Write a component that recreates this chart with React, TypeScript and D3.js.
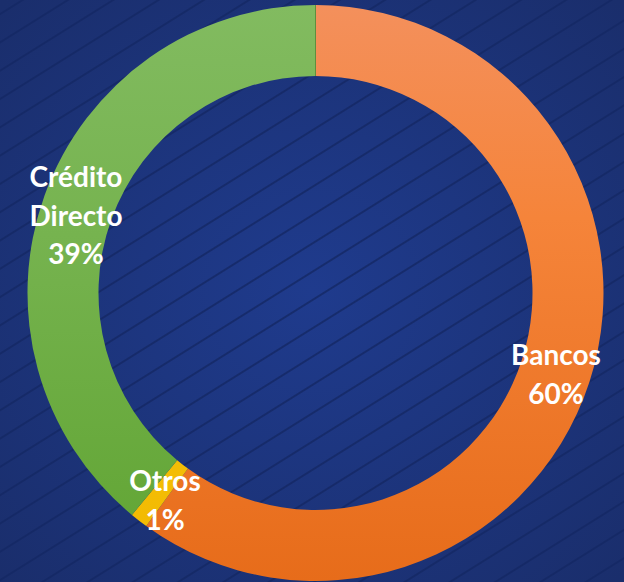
import React from "react";
import * as d3 from "d3";

const categories = ["Bancos", "Otros", "Crédito Directo"];
const values = [60, 1, 39];
const labelLines = [["Bancos", "60%"], ["Otros", "1%"], ["Crédito", "Directo", "39%"]];
const colorStops = [
  [["0%", "#F4905C"], ["37%", "#F5843A"], ["100%", "#E76C1A"]],
  [["0%", "#FFD21A"], ["100%", "#F1B800"]],
  [["0%", "#82BB60"], ["40%", "#76B34F"], ["100%", "#60A432"]],
];

const W = 624;
const H = 582;

export default function App() {
  const cx = 315.5;
  const cy = 293;
  const outerR = 288;
  const innerR = 217;
  const pie = d3.pie<number>().sort(null).value((d) => d)(values);
  const arc = d3.arc<d3.PieArcDatum<number>>().innerRadius(innerR).outerRadius(outerR);
  const labelPos: [number, number][] = [
    [556, 355],
    [165, 481],
    [76, 177],
  ];
  return (
    <svg width={W} height={H} style={{ position: "absolute", left: 0, top: 0 }}>
      <defs>
        <radialGradient id="bg" cx="50%" cy="50%" r="70%">
          <stop offset="0%" stopColor="#1F3B8D" />
          <stop offset="100%" stopColor="#1A2E6C" />
        </radialGradient>
        <pattern id="stripes" patternUnits="userSpaceOnUse" width="24" height="24" patternTransform="rotate(-32)">
          <line x1="0" y1="12" x2="24" y2="12" stroke="#132763" strokeWidth="1.8" strokeOpacity="0.85" />
        </pattern>
        {colorStops.map((stops, i) => (
          <linearGradient key={i} id={`g${i}`} gradientUnits="userSpaceOnUse" x1="0" y1={-outerR} x2="0" y2={outerR}>
            {stops.map(([o, c]) => (
              <stop key={o} offset={o} stopColor={c} />
            ))}
          </linearGradient>
        ))}
      </defs>
      <rect width={W} height={H} fill="url(#bg)" />
      <rect width={W} height={H} fill="url(#stripes)" />
      <g transform={`translate(${cx},${cy})`}>
        {pie.map((p, i) => (
          <path key={categories[i]} d={arc(p) || ""} fill={`url(#g${i})`} />
        ))}
        <line x1={0} y1={-outerR} x2={0} y2={-innerR} stroke="#5E8F3E" strokeWidth={1} />
      </g>
      {labelLines.map((lines, i) => (
        <text
          key={i}
          x={labelPos[i][0]}
          y={labelPos[i][1]}
          textAnchor="middle"
          fill="#FFFFFF"
          fontFamily="Lato, 'Open Sans', sans-serif"
          fontWeight="bold"
          fontSize={28}
        >
          {lines.map((l, j) => (
            <tspan key={j} x={labelPos[i][0]} dy={j === 0 ? 10 : 38.5}>
              {l}
            </tspan>
          ))}
        </text>
      ))}
    </svg>
  );
}
